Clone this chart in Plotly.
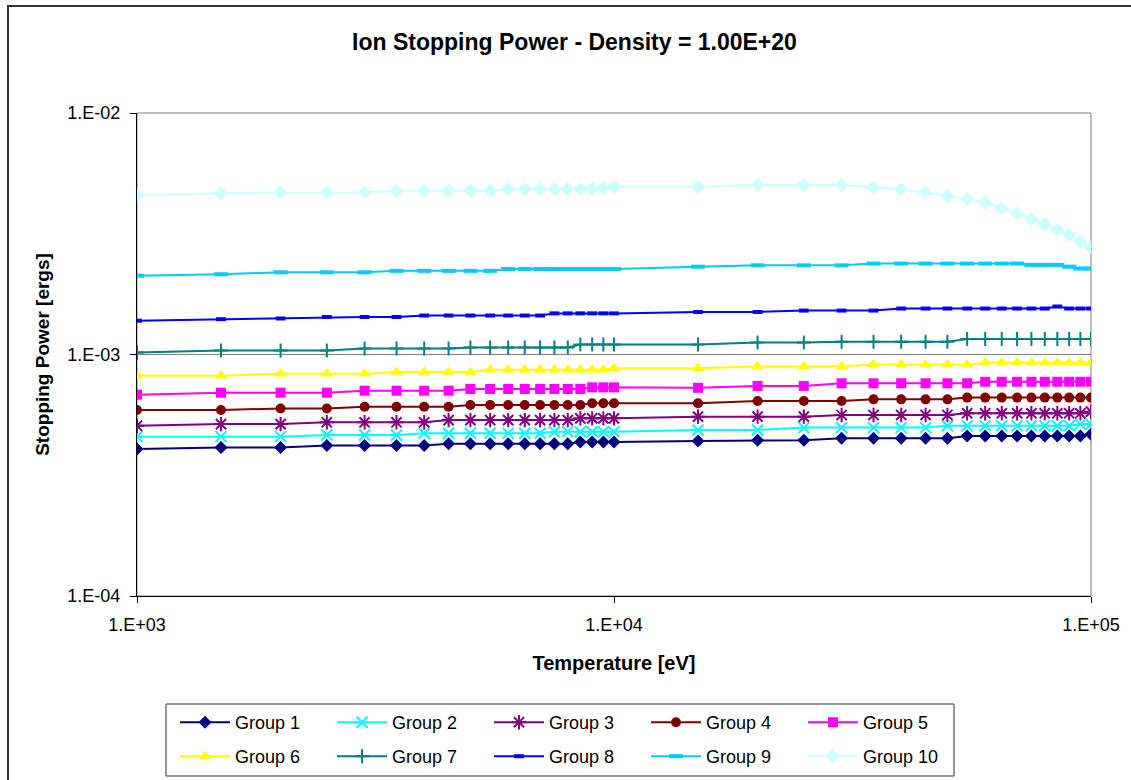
import plotly.graph_objects as go

temperature = [1000, 1500, 2000, 2500, 3000, 3500, 4000, 4500, 5000, 5500, 6000, 6500, 7000,
               7500, 8000, 8500, 9000, 9500, 10000, 15000, 20000, 25000, 30000, 35000, 40000,
               45000, 50000, 55000, 60000, 65000, 70000, 75000, 80000, 85000, 90000, 95000, 100000]

group1 = [4.06e-4, 4.12e-4, 4.12e-4, 4.20e-4, 4.20e-4, 4.20e-4, 4.20e-4, 4.27e-4, 4.27e-4, 4.27e-4,
          4.27e-4, 4.27e-4, 4.27e-4, 4.27e-4, 4.27e-4, 4.34e-4, 4.34e-4, 4.34e-4, 4.34e-4,
          4.38e-4, 4.42e-4, 4.42e-4, 4.50e-4, 4.50e-4, 4.50e-4, 4.50e-4, 4.50e-4, 4.60e-4, 4.60e-4,
          4.60e-4, 4.60e-4, 4.60e-4, 4.60e-4, 4.60e-4, 4.60e-4, 4.60e-4, 4.68e-4]
group2 = [4.57e-4, 4.57e-4, 4.57e-4, 4.64e-4, 4.64e-4, 4.64e-4, 4.72e-4, 4.72e-4, 4.72e-4, 4.72e-4,
          4.72e-4, 4.72e-4, 4.72e-4, 4.79e-4, 4.79e-4, 4.79e-4, 4.79e-4, 4.79e-4, 4.79e-4,
          4.87e-4, 4.87e-4, 4.98e-4, 4.98e-4, 4.98e-4, 4.98e-4, 4.98e-4, 5.07e-4, 5.07e-4, 5.07e-4,
          5.07e-4, 5.07e-4, 5.07e-4, 5.07e-4, 5.07e-4, 5.07e-4, 5.15e-4, 5.15e-4]
group3 = [5.07e-4, 5.15e-4, 5.15e-4, 5.24e-4, 5.24e-4, 5.24e-4, 5.24e-4, 5.35e-4, 5.35e-4, 5.35e-4,
          5.35e-4, 5.35e-4, 5.35e-4, 5.35e-4, 5.35e-4, 5.44e-4, 5.44e-4, 5.44e-4, 5.44e-4,
          5.53e-4, 5.53e-4, 5.53e-4, 5.62e-4, 5.62e-4, 5.62e-4, 5.62e-4, 5.62e-4, 5.71e-4, 5.71e-4,
          5.71e-4, 5.71e-4, 5.71e-4, 5.71e-4, 5.71e-4, 5.71e-4, 5.71e-4, 5.80e-4]
group4 = [5.89e-4, 5.89e-4, 5.98e-4, 5.98e-4, 6.08e-4, 6.08e-4, 6.08e-4, 6.08e-4, 6.18e-4, 6.18e-4,
          6.18e-4, 6.18e-4, 6.18e-4, 6.18e-4, 6.18e-4, 6.18e-4, 6.28e-4, 6.28e-4, 6.28e-4,
          6.28e-4, 6.42e-4, 6.42e-4, 6.42e-4, 6.52e-4, 6.52e-4, 6.52e-4, 6.52e-4, 6.63e-4, 6.63e-4,
          6.63e-4, 6.63e-4, 6.63e-4, 6.63e-4, 6.63e-4, 6.63e-4, 6.63e-4, 6.63e-4]
group5 = [6.82e-4, 6.95e-4, 6.95e-4, 6.95e-4, 7.08e-4, 7.08e-4, 7.08e-4, 7.08e-4, 7.20e-4, 7.20e-4,
          7.20e-4, 7.20e-4, 7.20e-4, 7.20e-4, 7.20e-4, 7.20e-4, 7.31e-4, 7.31e-4, 7.31e-4,
          7.28e-4, 7.41e-4, 7.41e-4, 7.60e-4, 7.60e-4, 7.60e-4, 7.60e-4, 7.60e-4, 7.60e-4, 7.71e-4,
          7.71e-4, 7.71e-4, 7.71e-4, 7.71e-4, 7.71e-4, 7.71e-4, 7.71e-4, 7.71e-4]
group6 = [8.17e-4, 8.17e-4, 8.33e-4, 8.33e-4, 8.33e-4, 8.47e-4, 8.47e-4, 8.47e-4, 8.47e-4, 8.64e-4,
          8.64e-4, 8.64e-4, 8.64e-4, 8.64e-4, 8.64e-4, 8.64e-4, 8.64e-4, 8.64e-4, 8.77e-4,
          8.77e-4, 8.91e-4, 8.91e-4, 8.91e-4, 9.08e-4, 9.08e-4, 9.08e-4, 9.08e-4, 9.08e-4, 9.25e-4,
          9.25e-4, 9.25e-4, 9.25e-4, 9.25e-4, 9.25e-4, 9.25e-4, 9.25e-4, 9.25e-4]
group7 = [1.02e-3, 1.04e-3, 1.04e-3, 1.04e-3, 1.06e-3, 1.06e-3, 1.06e-3, 1.06e-3, 1.07e-3, 1.07e-3,
          1.07e-3, 1.07e-3, 1.07e-3, 1.07e-3, 1.07e-3, 1.10e-3, 1.10e-3, 1.10e-3, 1.10e-3,
          1.10e-3, 1.12e-3, 1.12e-3, 1.13e-3, 1.13e-3, 1.13e-3, 1.13e-3, 1.13e-3, 1.16e-3, 1.16e-3,
          1.16e-3, 1.16e-3, 1.16e-3, 1.16e-3, 1.16e-3, 1.16e-3, 1.16e-3, 1.16e-3]
group8 = [1.38e-3, 1.40e-3, 1.41e-3, 1.43e-3, 1.43e-3, 1.43e-3, 1.45e-3, 1.45e-3, 1.45e-3, 1.45e-3,
          1.45e-3, 1.45e-3, 1.45e-3, 1.48e-3, 1.48e-3, 1.48e-3, 1.48e-3, 1.48e-3, 1.48e-3,
          1.50e-3, 1.50e-3, 1.52e-3, 1.52e-3, 1.52e-3, 1.55e-3, 1.55e-3, 1.55e-3, 1.55e-3, 1.55e-3,
          1.55e-3, 1.55e-3, 1.55e-3, 1.55e-3, 1.58e-3, 1.55e-3, 1.55e-3, 1.55e-3]
group9 = [2.12e-3, 2.15e-3, 2.19e-3, 2.19e-3, 2.19e-3, 2.22e-3, 2.22e-3, 2.22e-3, 2.22e-3, 2.22e-3,
          2.26e-3, 2.26e-3, 2.26e-3, 2.26e-3, 2.26e-3, 2.26e-3, 2.26e-3, 2.26e-3, 2.26e-3,
          2.31e-3, 2.34e-3, 2.34e-3, 2.34e-3, 2.38e-3, 2.38e-3, 2.38e-3, 2.38e-3, 2.38e-3, 2.38e-3,
          2.38e-3, 2.38e-3, 2.35e-3, 2.35e-3, 2.35e-3, 2.31e-3, 2.27e-3, 2.27e-3]
group10 = [4.58e-3, 4.65e-3, 4.69e-3, 4.69e-3, 4.69e-3, 4.77e-3, 4.77e-3, 4.77e-3, 4.77e-3, 4.77e-3,
           4.84e-3, 4.84e-3, 4.84e-3, 4.84e-3, 4.84e-3, 4.84e-3, 4.84e-3, 4.88e-3, 4.95e-3,
           4.95e-3, 5.03e-3, 5.03e-3, 5.03e-3, 4.92e-3, 4.83e-3, 4.68e-3, 4.55e-3, 4.40e-3, 4.25e-3,
           4.03e-3, 3.84e-3, 3.64e-3, 3.46e-3, 3.28e-3, 3.13e-3, 2.93e-3, 2.77e-3]

series_names = ["Group 1", "Group 2", "Group 3", "Group 4", "Group 5",
                "Group 6", "Group 7", "Group 8", "Group 9", "Group 10"]
series_values = [group1, group2, group3, group4, group5, group6, group7, group8, group9, group10]

x_tickvals = [1e3, 1e4, 1e5]
x_ticktext = ["1.E+03", "1.E+04", "1.E+05"]
y_tickvals = [1e-4, 1e-3, 1e-2]
y_ticktext = ["1.E-04", "1.E-03", "1.E-02"]

colors = ["#000080", "#00FFFF", "#800080", "#800000", "#FF00FF",
          "#FFFF00", "#008080", "#0000FF", "#00CCFF", "#CCFFFF"]
markers = [
    dict(symbol="diamond", size=10),
    dict(symbol="x-thin", size=11, line=dict(width=2)),
    dict(symbol="asterisk", size=12, line=dict(width=2)),
    dict(symbol="circle", size=10),
    dict(symbol="square", size=10),
    dict(symbol="triangle-up", size=11),
    dict(symbol="cross-thin", size=10, line=dict(width=2)),
    dict(symbol="line-ew", size=7, line=dict(width=4)),
    dict(symbol="line-ew", size=10, line=dict(width=4)),
    dict(symbol="diamond", size=11),
]

FONT = "Liberation Sans, Arial, sans-serif"
L, R, T, B = 137, 40, 113, 184
W, H = 1131, 780
PW, PH = W - L - R, H - T - B

fig = go.Figure()
for i, (name, vals) in enumerate(zip(series_names, series_values)):
    m = dict(markers[i])
    m["color"] = colors[i]
    if "line" in m:
        m["line"] = dict(m["line"], color=colors[i])
    fig.add_trace(go.Scatter(
        x=temperature, y=vals, name=name, mode="lines+markers",
        line=dict(color=colors[i], width=2), marker=m,
        legend="legend" if i < 5 else "legend2",
    ))

def px_x(p):
    return (p - L) / PW

def px_y(p):
    return (H - B - p) / PH

legend_common = dict(
    orientation="h", xanchor="left", yanchor="top",
    font=dict(family=FONT, size=18, color="#000000"),
    bgcolor="rgba(0,0,0,0)", borderwidth=0,
    itemwidth=50, entrywidth=92, itemsizing="trace",
    traceorder="normal",
)

fig.update_layout(
    width=W, height=H,
    margin=dict(l=L, r=R, t=T, b=B, autoexpand=False),
    paper_bgcolor="white", plot_bgcolor="white",
    title=dict(text="Ion Stopping Power - Density = 1.00E+20",
               font=dict(family=FONT, size=23, color="#000000", weight="bold"),
               x=574.5 / W, xref="container", xanchor="center",
               y=1 - 42 / H, yref="container", yanchor="middle"),
    xaxis=dict(type="log", range=[3, 5], tickvals=x_tickvals, ticktext=x_ticktext,
               showgrid=False, showline=True, linecolor="#000000", linewidth=1,
               ticks="outside", ticklen=6, tickcolor="#000000", zeroline=False,
               ticklabelstandoff=6,
               tickfont=dict(family=FONT, size=18, color="#000000"),
               title=dict(text="Temperature [eV]", standoff=22,
                          font=dict(family=FONT, size=20, color="#000000", weight="bold"))),
    yaxis=dict(type="log", range=[-4, -2], tickvals=y_tickvals, ticktext=y_ticktext,
               showgrid=True, gridcolor="#808080", gridwidth=1,
               showline=True, linecolor="#000000", linewidth=1,
               ticks="outside", ticklen=6, tickcolor="#000000", zeroline=False,
               ticklabelstandoff=6,
               tickfont=dict(family=FONT, size=18, color="#000000"),
               title=dict(text="Stopping Power [ergs]", standoff=12,
                          font=dict(family=FONT, size=19, color="#000000", weight="bold"))),
    legend=dict(legend_common, x=px_x(175), y=px_y(704)),
    legend2=dict(legend_common, x=px_x(175), y=px_y(738)),
    shapes=[
        dict(type="rect", xref="paper", yref="paper", x0=0, x1=1, y0=0, y1=1,
             line=dict(color="#808080", width=1), layer="below"),
        dict(type="rect", xref="paper", yref="paper",
             x0=px_x(8), x1=px_x(1145), y0=px_y(795), y1=px_y(6),
             line=dict(color="#333333", width=2)),
        dict(type="rect", xref="paper", yref="paper",
             x0=px_x(166), x1=px_x(954), y0=px_y(776), y1=px_y(704),
             line=dict(color="#333333", width=1)),
    ],
    showlegend=True,
)

fig.write_html("out.html")
